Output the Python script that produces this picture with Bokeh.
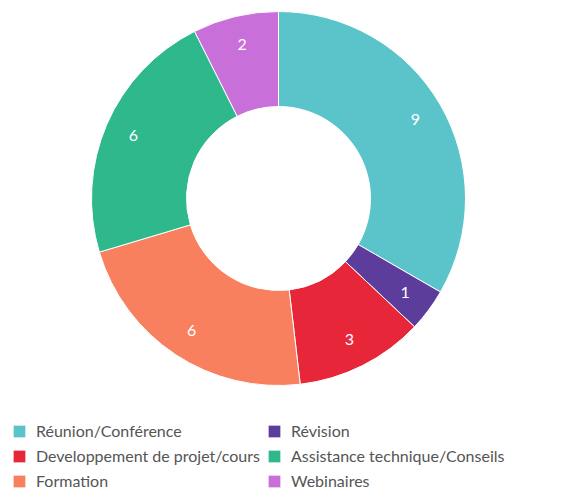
import math
from bokeh.plotting import figure
from bokeh.models import ColumnDataSource, Range1d, Legend, LegendItem
from bokeh.embed import file_html
from bokeh.resources import INLINE
from bokeh.core.properties import value

categories = ["Réunion/Conférence", "Révision", "Developpement de projet/cours",
              "Formation", "Assistance technique/Conseils", "Webinaires"]
counts = [9, 1, 3, 6, 6, 2]
colors = ["#5bc4cb", "#5c3d9c", "#e8263a", "#f8805f", "#2fb88b", "#c86fd9"]
legend_order = [0, 1, 2, 4, 3, 5]

total = sum(counts)
starts, ends, mids = [], [], []
cum = 0
for c in counts:
    a0 = math.pi / 2 - 2 * math.pi * cum / total
    cum += c
    a1 = math.pi / 2 - 2 * math.pi * cum / total
    starts.append(a0)
    ends.append(a1)
    mids.append((a0 + a1) / 2)

R_OUT, R_IN, R_LAB = 187, 92, 158
lx = [R_LAB * math.cos(m) for m in mids]
ly = [R_LAB * math.sin(m) for m in mids]

src = ColumnDataSource(dict(cat=categories, val=counts, color=colors,
                            start=starts, end=ends, lx=lx, ly=ly,
                            lab=[str(c) for c in counts]))

W, H = 561, 493
CX, CY = 278, 198
p = figure(width=W, height=H, output_backend="svg", toolbar_location=None,
           x_range=Range1d(-CX, W - CX), y_range=Range1d(CY - H, CY),
           x_axis_type=None, y_axis_type=None, min_border=0)
p.grid.visible = False
p.outline_line_color = None

r = p.annular_wedge(x=0, y=0, inner_radius=R_IN, outer_radius=R_OUT,
                    start_angle="start", end_angle="end", direction="clock",
                    fill_color="color", line_color="white", line_width=1,
                    source=src)

p.text(x="lx", y="ly", text="lab", source=src, text_color="white",
       text_font=value("Lato"), text_font_size="16px",
       text_align="center", text_baseline="middle")

items = [LegendItem(label=categories[i], renderers=[r], index=i) for i in legend_order]
legend = Legend(items=items, orientation="horizontal", ncols=2,
                location=(11, 3), glyph_width=16, glyph_height=16,
                label_height=19, label_standoff=9, spacing=6, padding=0,
                margin=0, border_line_color=None, background_fill_alpha=0,
                label_text_font="Lato", label_text_font_size="16px",
                label_text_color="#555555")
p.add_layout(legend)

open("out.html", "w").write(file_html(p, INLINE))
